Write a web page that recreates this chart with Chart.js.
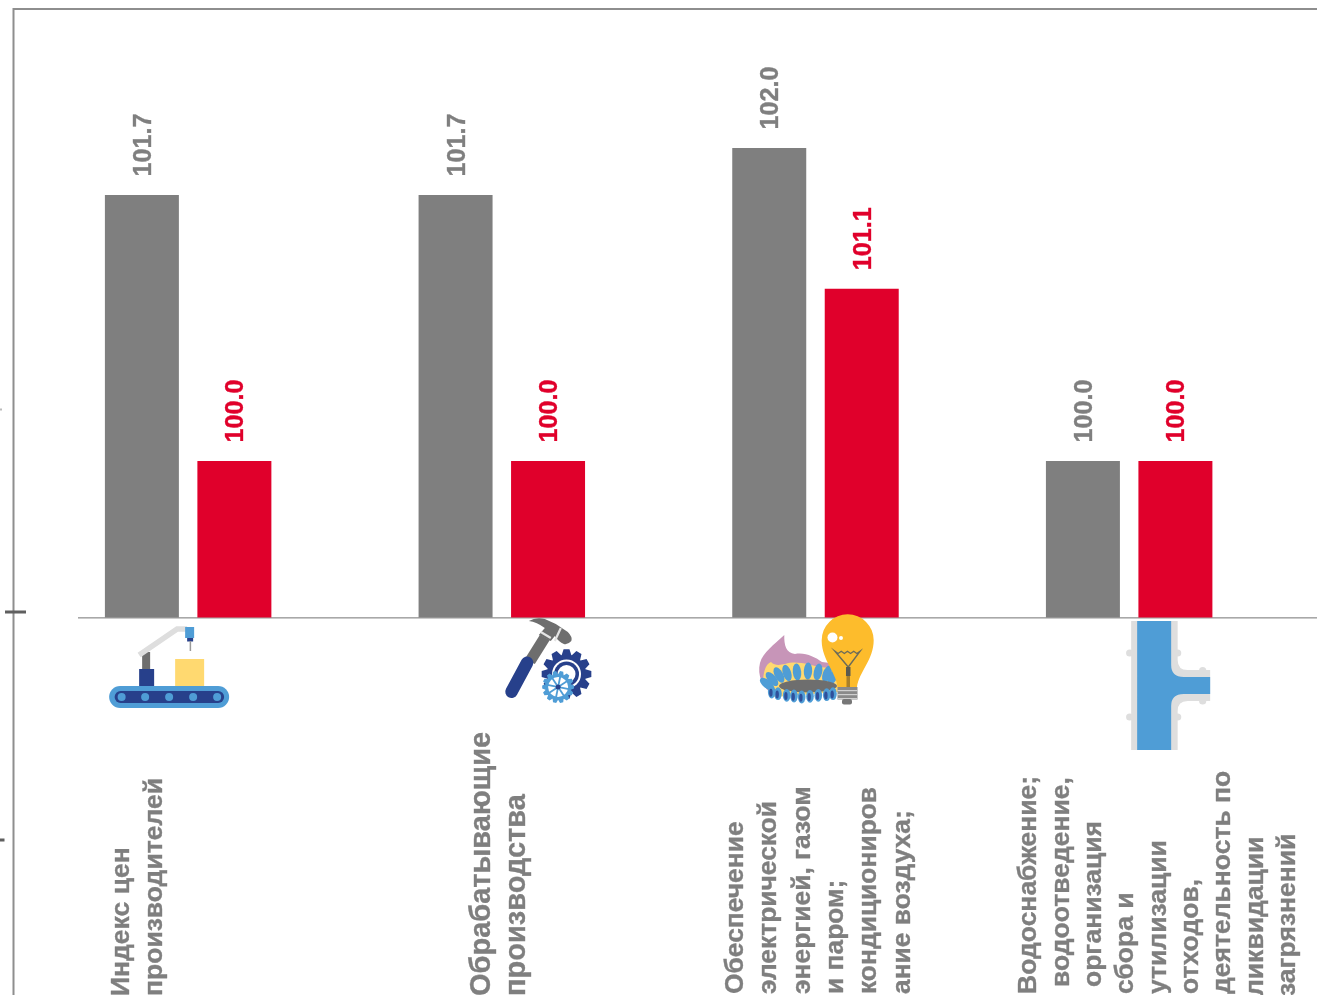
<!DOCTYPE html>
<html lang="ru"><head><meta charset="utf-8">
<style>html,body{margin:0;padding:0;background:#fff;overflow:hidden}canvas{display:block}</style>
<script src="https://cdn.jsdelivr.net/npm/chart.js@4/dist/chart.umd.min.js"></script>
</head><body><div style="width:1317px;height:995px"><canvas id="c" width="1317" height="995"></canvas></div>
<script>
const categories = [
  ["Индекс цен","производителей"],
  ["Обрабатывающие","производства"],
  ["Обеспечение","электрической","энергией, газом","и паром;","кондициониров","ание воздуха;"],
  ["Водоснабжение;","водоотведение,","организация","сбора и","утилизации","отходов,","деятельность по","ликвидации","загрязнений"]
];
const greySeries = [101.7,101.7,102.0,100.0];
const redSeries = [100.0,100.0,101.1,100.0];
const GREY='#7f7f7f', RED='#e0002b', BLUE='#4f9dd6', NAVY='#27408b', YEL='#ffd970', LG='#dedede', DG='#6e6e6e';
const fontOf=s=>'bold '+s+'px "Liberation Sans", Arial, sans-serif';
const VALUE_SIZE=25.2, labelSize=[26.5,29,26.4,26.5];
const firstLineOffset=[-66,-20,-80,-100], lineStep=[33,35.5,33.4,32.3], lineStart=[996,996,994,994];
const lineNudge=[[],[],[],[0,7,7,0,0,0,0,-2,-2]];

function rr(c,x,y,w,h,r,f){c.fillStyle=f;c.beginPath();c.roundRect(x,y,w,h,r);c.fill();}
function rect(c,x,y,w,h,f){c.fillStyle=f;c.fillRect(x,y,w,h);}
function circ(c,x,y,r,f){c.fillStyle=f;c.beginPath();c.arc(x,y,r,0,Math.PI*2);c.fill();}
function gear(c,x,y,R,r,n,f){c.fillStyle=f;c.beginPath();
  for(let i=0;i<n;i++){const a=i*2*Math.PI/n,d=Math.PI/n;
    [[a-d*.95,r],[a-d*.45,R],[a+d*.45,R],[a+d*.95,r]].forEach(p=>c.lineTo(x+p[1]*Math.cos(p[0]),y+p[1]*Math.sin(p[0])));}
  c.closePath();c.fill();}
function petal(c,x,y,rx,ry,a,f){c.fillStyle=f;c.beginPath();c.ellipse(x,y,rx,ry,a,0,Math.PI*2);c.fill();}
function poly(c,pts,f){c.fillStyle=f;c.beginPath();pts.forEach((p,i)=>i?c.lineTo(p[0],p[1]):c.moveTo(p[0],p[1]));c.closePath();c.fill();}

function iconConveyor(c,o){
  c.translate(o-188,0);
  rr(c,109,686,120,22,11,BLUE);rr(c,114.5,691,109.5,12,6,NAVY);
  [121.5,145,169,193,217].forEach(x=>circ(c,x,697,4,BLUE));
  rect(c,139,669,15,17,NAVY);rect(c,142,652,8,17,DG);
  c.strokeStyle=LG;c.lineWidth=5.5;c.beginPath();c.moveTo(139,655);c.lineTo(177,629);c.lineTo(187,629);c.stroke();
  rect(c,185,627,9,11,BLUE);rect(c,187,638,6,3.5,NAVY);rect(c,189.5,641,1.5,10,'#999');
  rect(c,175,659,29,27,YEL);
}
function iconTools(c,o){
  c.translate(o-502,0);
  poly(c,[[540,635],[550,640],[535,664],[525,659]],DG);
  c.fillStyle=DG;c.beginPath();c.moveTo(529,621);c.quadraticCurveTo(536,617,545,619);c.lineTo(556,624);c.lineTo(568,632);
  c.quadraticCurveTo(573,637,571.5,641);c.quadraticCurveTo(568,645,564,644);c.quadraticCurveTo(559,642,555,636);
  c.lineTo(551,641);c.lineTo(539,635);c.lineTo(545,628);c.quadraticCurveTo(537,622,529,621);c.closePath();c.fill();
  c.strokeStyle='#e4e4e4';c.lineWidth=2.2;c.beginPath();c.moveTo(561,628);c.lineTo(555,641);c.stroke();
  c.beginPath();c.moveTo(541,632);c.lineTo(551,638);c.stroke();
  c.strokeStyle=NAVY;c.lineWidth=12.5;c.lineCap='round';c.beginPath();c.moveTo(511.7,691.7);c.lineTo(527.3,662.7);c.stroke();c.lineCap='butt';
  gear(c,566.7,674,25,19.5,12,NAVY);
  circ(c,566.7,674,14.5,'#fff');circ(c,566.7,674,12.5,NAVY);circ(c,566.7,674,9,'#fff');
  gear(c,558.3,687,16,13,14,BLUE);circ(c,558.3,687,10,'#fff');
  c.strokeStyle=BLUE;c.lineWidth=1.8;for(let i=0;i<4;i++){const a=i*Math.PI/4+.2;c.beginPath();c.moveTo(558.3-11*Math.cos(a),687-11*Math.sin(a));c.lineTo(558.3+11*Math.cos(a),687+11*Math.sin(a));c.stroke();}
  circ(c,558.3,687,2.5,NAVY);
}
function iconEnergy(c,o){
  c.translate(o-815.5,0);
  c.fillStyle='#c795b8';c.beginPath();c.moveTo(784.3,635);c.bezierCurveTo(784,645,786,653,795,654);c.bezierCurveTo(805,652,815,657,822,662);c.lineTo(838,664);c.lineTo(838,690);
  c.lineTo(775,696);c.bezierCurveTo(762,688,757,675,760,663);c.bezierCurveTo(763,652,774,645,784.3,635);c.closePath();c.fill();
  c.fillStyle=YEL;c.beginPath();c.moveTo(763,680);c.bezierCurveTo(764,670,766,664,771,662);c.bezierCurveTo(775,666,780,665,785,664);c.bezierCurveTo(797,660,810,665,820,667);c.lineTo(838,669);c.lineTo(838,692);c.lineTo(775,697);c.bezierCurveTo(770,692,765,686,763,680);c.closePath();c.fill();
  [[767,684,-.9],[772,679,-.7],[779,675,-.5],[787,673,-.3],[797,672,-.1],[808,671,.05],[818,672,.2],[827,674,.35],[833,677,.5]]
    .forEach(p=>petal(c,p[0],p[1],4.2,8.5,p[2],BLUE));
  petal(c,808,686,29,6.5,0,DG);
  [[771.7,692],[778,693.7],[786.7,695.3],[794,696],[801.7,697],[810,696.3],[818.3,695.3],[826.7,694.7],[833,693.7]]
    .forEach(p=>{petal(c,p[0],p[1],3.8,6.4,0,BLUE);petal(c,p[0]-.8,p[1]+.8,1.7,4,0,'#2f4f9a');});
  c.fillStyle='#fdbc2c';c.beginPath();c.moveTo(837.5,687);c.bezierCurveTo(836,672,822,660,821.7,641);
  c.arc(847.7,640.3,26,Math.PI,0);
  c.bezierCurveTo(873.7,660,859,672,857,687);c.closePath();c.fill();
  circ(c,832.5,637.5,5,'#fff');circ(c,841,638,2,'#fff');
  c.strokeStyle='#6b6b5a';c.lineWidth=1.4;c.beginPath();c.moveTo(835,651.3);
  for(let i=1;i<=8;i++)c.lineTo(835+i*3.12,i%2?653.5:651.3);
  c.lineTo(848.3,667);c.closePath();c.stroke();
  rect(c,846,667,4.5,9,'#5a5a50');rect(c,846.5,676,3.5,11,'#a87f2a');
  rect(c,837.5,687,20,12.5,'#8a8a8a');
  for(let i=0;i<3;i++)rect(c,837.5,690+i*4,20,1.2,'#d0d0d0');
  rr(c,842,699,10,5.5,2,'#777');
}
function iconPipe(c,o){
  c.translate(o-1129.5,0);
  [[1130,653],[1178,653],[1130,717],[1178,717],[1203,670.5],[1203,701]].forEach(p=>circ(c,p[0],p[1],3.6,LG));
  c.fillStyle=LG;c.beginPath();c.moveTo(1131.5,621);c.lineTo(1178,621);c.lineTo(1178,660);c.quadraticCurveTo(1178,670,1188,670);c.lineTo(1210.5,670);c.lineTo(1210.5,701);c.lineTo(1188,701);c.quadraticCurveTo(1178,701,1178,711);c.lineTo(1178,750);c.lineTo(1131.5,750);c.closePath();c.fill();
  c.fillStyle=BLUE;c.beginPath();c.moveTo(1137.5,621);c.lineTo(1171.5,621);c.lineTo(1171.5,665);c.quadraticCurveTo(1171.5,677,1184,677);c.lineTo(1210.5,677);c.lineTo(1210.5,694);c.lineTo(1184,694);c.quadraticCurveTo(1171.5,694,1171.5,706);c.lineTo(1171.5,750);c.lineTo(1137.5,750);c.closePath();c.fill();
}
const iconDrawers=[iconConveyor,iconTools,iconEnergy,iconPipe];

const decor={id:'decor',
  beforeDatasetsDraw(ch){
    const c=ch.ctx;c.save();
    c.fillStyle='#8e8e8e';c.fillRect(13,8,1304,2);c.fillRect(12.5,8,2,987);
    c.fillStyle='#a8a8a8';c.fillRect(78,617,1239,1.6);
    c.fillStyle='#5f5f5f';c.fillRect(5,610.5,21,3);c.fillRect(0,838.5,4.5,3);
    c.fillStyle='#bbb';c.fillRect(0,408.5,2,2);
    c.restore();
  },
  afterDatasetsDraw(ch){
    const c=ch.ctx,xs=ch.scales.x;
    c.save();
    c.textBaseline='middle';c.textAlign='left';c.lineWidth=0.35;
    c.font=fontOf(VALUE_SIZE);
    ch.data.datasets.forEach((ds,di)=>{
      ch.getDatasetMeta(di).data.forEach((b,i)=>{
        c.save();c.translate(b.x+1,b.y-18.5);c.rotate(-Math.PI/2);
        c.fillStyle=c.strokeStyle=ds.backgroundColor;
        const t=ds.data[i].toFixed(1);c.fillText(t,0,1);c.strokeText(t,0,1);c.restore();
      });
    });
    c.fillStyle=c.strokeStyle=GREY;
    categories.forEach((lines,i)=>{
      const px=xs.getPixelForTick(i);
      c.font=fontOf(labelSize[i]);
      lines.forEach((t,j)=>{
        c.save();c.translate(px+firstLineOffset[i]+j*lineStep[i],lineStart[i]-(lineNudge[i][j]||0));c.rotate(-Math.PI/2);
        c.fillText(t,0,0);c.strokeText(t,0,0);c.restore();
      });
    });
    c.restore();
    iconDrawers.forEach((d,i)=>{c.save();d(c,xs.getPixelForTick(i));c.restore();});
  }
};
new Chart(document.getElementById('c'),{
  type:'bar',
  data:{labels:categories,datasets:[
    {label:'Ряд 1',data:greySeries,backgroundColor:GREY,categoryPercentage:0.5897,barPercentage:0.8},
    {label:'Ряд 2',data:redSeries,backgroundColor:RED,categoryPercentage:0.5897,barPercentage:0.8}
  ]},
  options:{responsive:false,animation:false,
    layout:{padding:{left:31.3,right:31,top:9,bottom:377.5}},
    plugins:{legend:{display:false},tooltip:{enabled:false}},
    scales:{x:{display:false},y:{display:false,min:99,max:102.888}}
  },
  plugins:[decor]
});
</script></body></html>
